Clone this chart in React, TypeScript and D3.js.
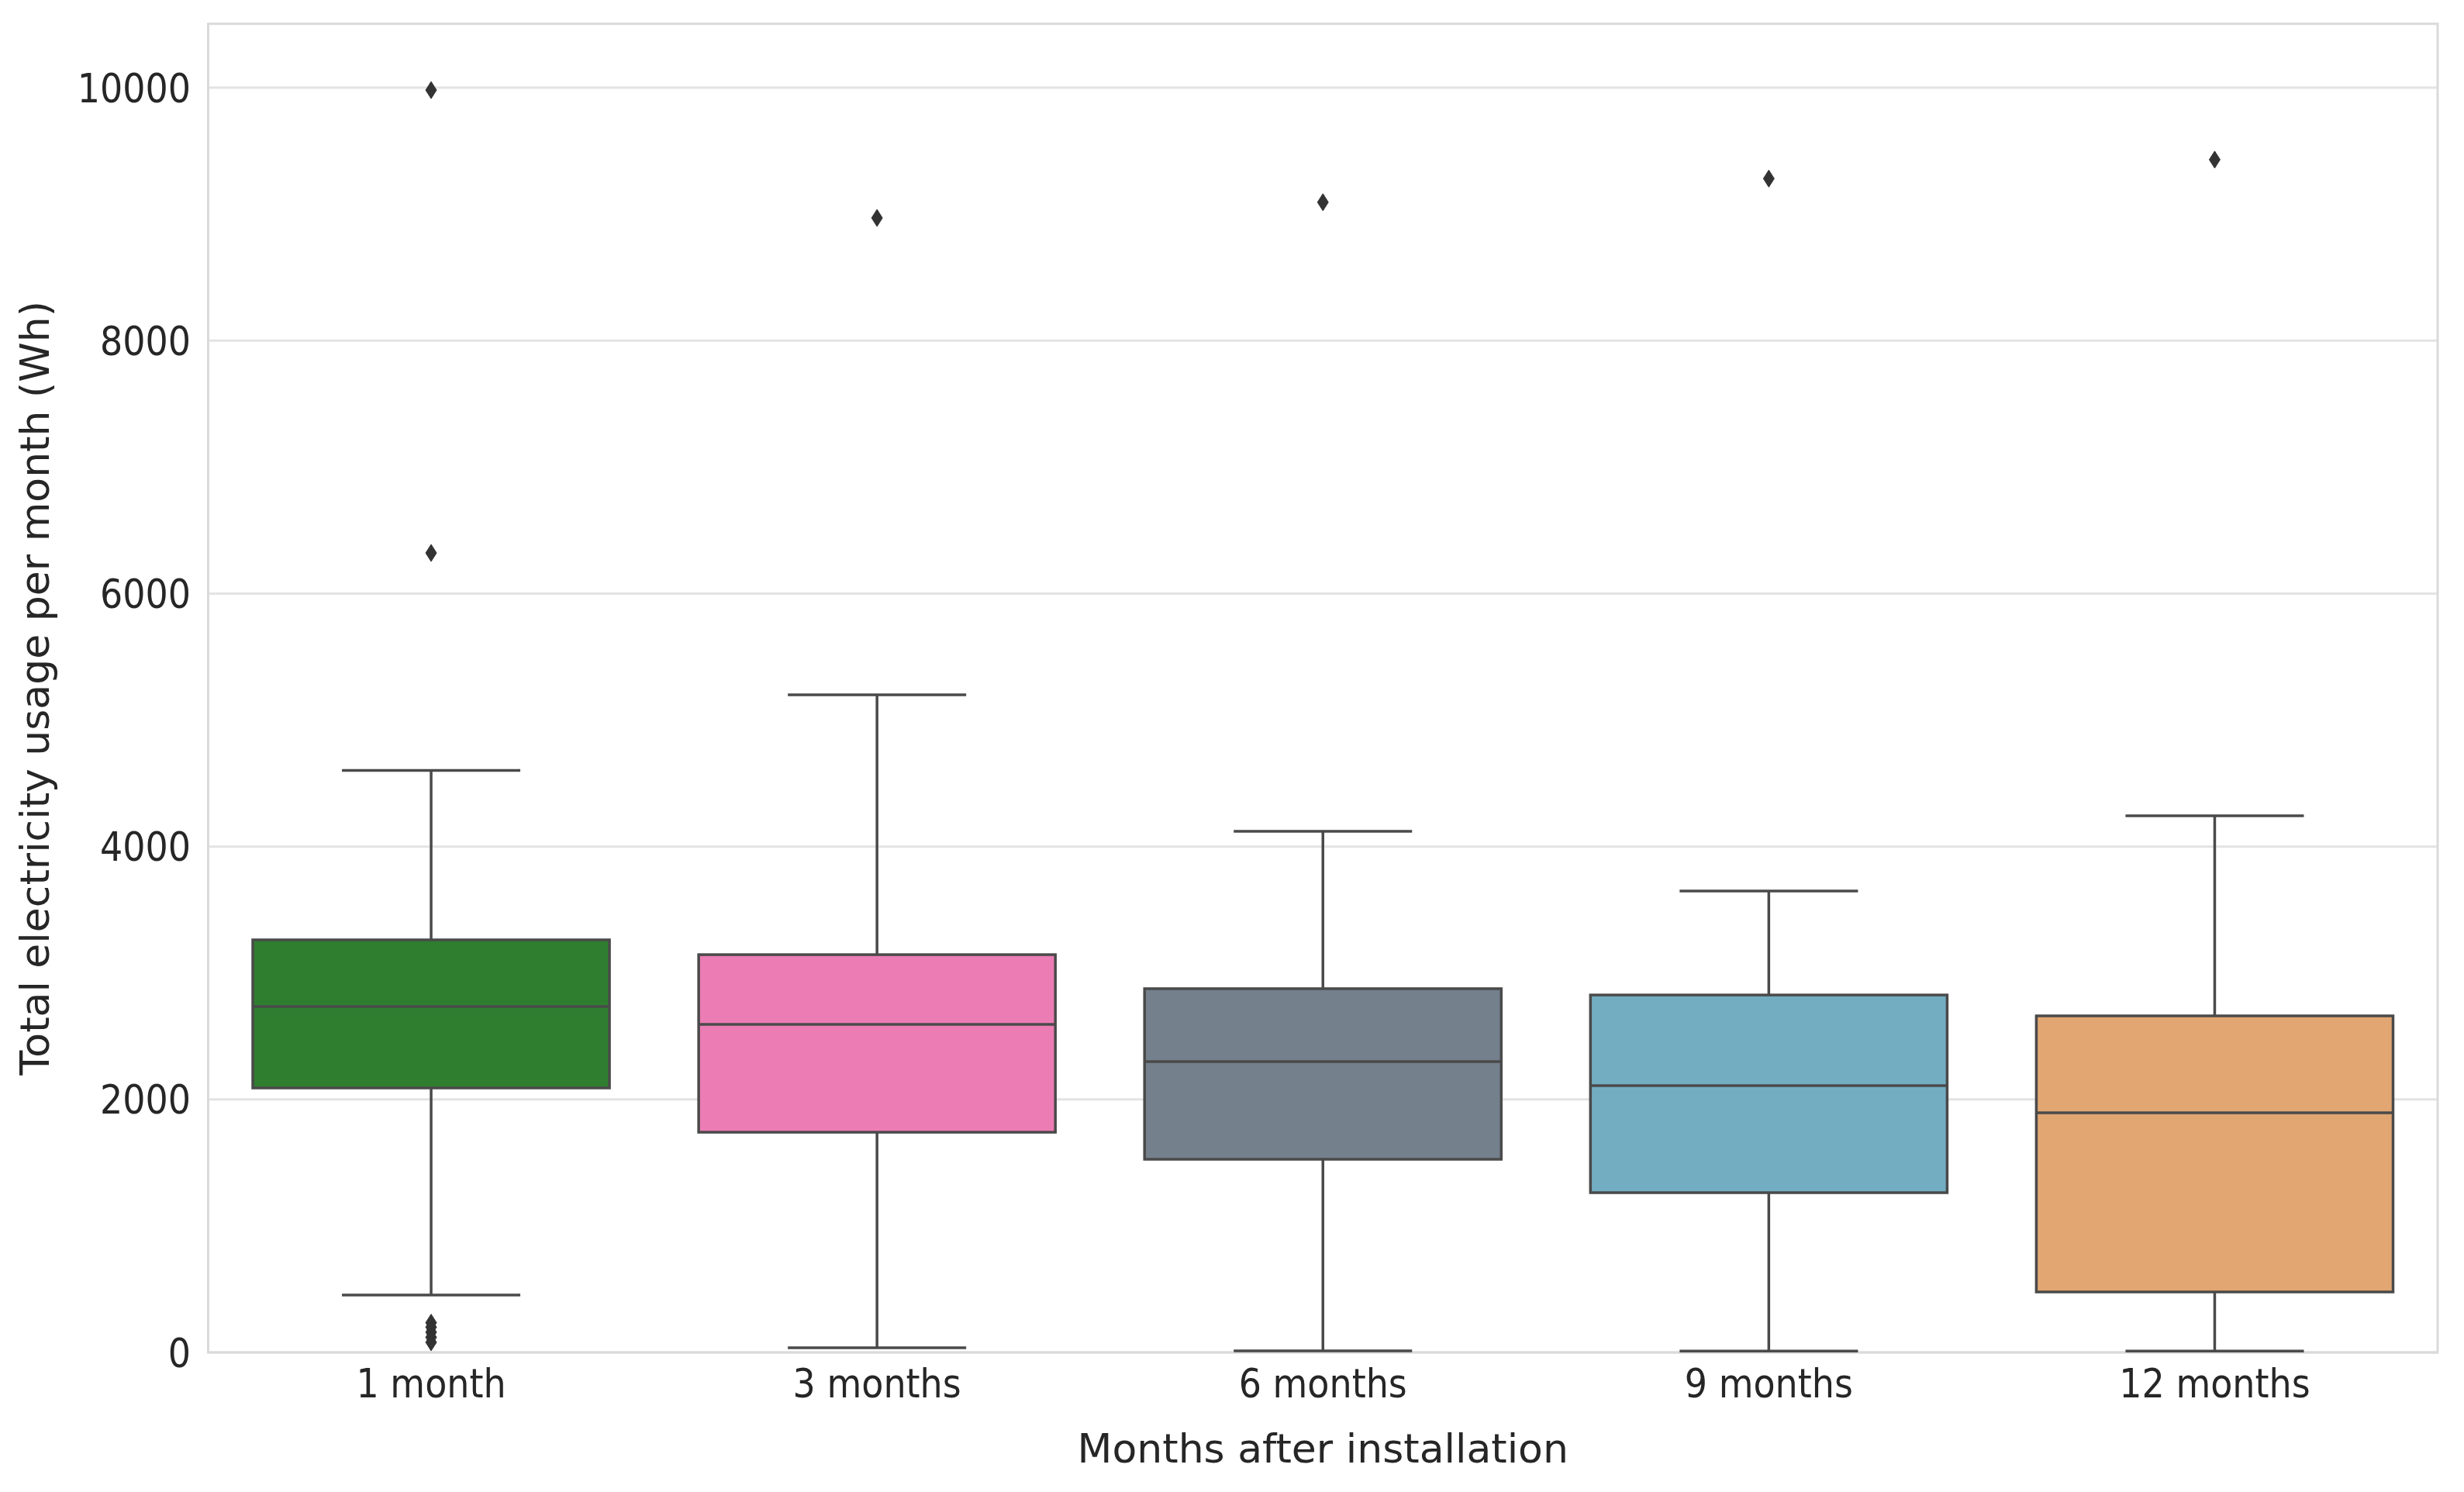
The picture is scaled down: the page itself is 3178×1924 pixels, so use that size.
import React from "react";
import * as d3 from "d3";

const categories = ["1 month", "3 months", "6 months", "9 months", "12 months"];
const whiskerLow = [454, 37, 12, 10, 10];
const q1 = [2091, 1741, 1527, 1263, 478];
const median = [2734, 2594, 2299, 2109, 1895];
const q3 = [3262, 3145, 2876, 2826, 2661];
const whiskerHigh = [4602, 5199, 4120, 3648, 4243];
const outliers = [
  [9981, 6321, 235, 200, 160, 120, 80],
  [8970],
  [9094],
  [9281],
  [9431],
];
const colors = ["#2f7e30", "#ec7cb4", "#74808c", "#73adc1", "#e2a672"];
const yTicks = [0, 2000, 4000, 6000, 8000, 10000];

const W = 3178;
const H = 1924;
const left = 268.5;
const right = 3144;
const top = 30.7;
const bottom = 1744;

export default function App() {
  const x = d3.scaleBand<string>().domain(categories).range([left, right]).paddingInner(0).paddingOuter(0);
  const y = d3.scaleLinear().domain([0, 10505]).range([bottom, top]);
  const bw = x.bandwidth();
  const boxW = bw * 0.8;
  const capW = boxW * 0.5;
  const lineColor = "#4a4a4a";
  const font = "'DejaVu Sans', sans-serif";
  const textColor = "#262626";
  const diamond = (cx: number, cy: number) => {
    const hh = 11, hw = 7;
    return `M${cx},${cy - hh}L${cx + hw},${cy}L${cx},${cy + hh}L${cx - hw},${cy}Z`;
  };
  return (
    <svg width={W} height={H} style={{ position: "absolute", left: 0, top: 0, background: "#fff" }} fontFamily={font}>
      <rect x={0} y={0} width={W} height={H} fill="#fff" />
      {yTicks.map((t) => (
        <line key={"g" + t} x1={left} x2={right} y1={y(t)} y2={y(t)} stroke="#e3e3e3" strokeWidth={3} />
      ))}
      <rect x={left} y={top} width={right - left} height={bottom - top} fill="none" stroke="#dadada" strokeWidth={3} />
      {categories.map((c, i) => {
        const cx = (x(c) as number) + bw / 2;
        return (
          <g key={c}>
            <line x1={cx} x2={cx} y1={y(q3[i])} y2={y(whiskerHigh[i])} stroke={lineColor} strokeWidth={3.5} />
            <line x1={cx} x2={cx} y1={y(q1[i])} y2={y(whiskerLow[i])} stroke={lineColor} strokeWidth={3.5} />
            <line x1={cx - capW / 2} x2={cx + capW / 2} y1={y(whiskerHigh[i])} y2={y(whiskerHigh[i])} stroke={lineColor} strokeWidth={3.5} />
            <line x1={cx - capW / 2} x2={cx + capW / 2} y1={y(whiskerLow[i])} y2={y(whiskerLow[i])} stroke={lineColor} strokeWidth={3.5} />
            <rect x={cx - boxW / 2} y={y(q3[i])} width={boxW} height={y(q1[i]) - y(q3[i])} fill={colors[i]} stroke={lineColor} strokeWidth={3.5} />
            <line x1={cx - boxW / 2} x2={cx + boxW / 2} y1={y(median[i])} y2={y(median[i])} stroke={lineColor} strokeWidth={3.5} />
            {outliers[i].map((v, j) => (
              <path key={j} d={diamond(cx, y(v))} fill="#333" stroke="#333" strokeWidth={1} />
            ))}
            <text
              transform={`translate(${cx},${1802}) scale(1,1.13)`}
              textAnchor="middle"
              fontSize={46}
              fill={textColor}
            >
              {c}
            </text>
          </g>
        );
      })}
      {yTicks.map((t) => (
        <text
          key={"t" + t}
          transform={`translate(${246},${y(t) + 18.5}) scale(1,1.13)`}
          textAnchor="end"
          fontSize={46}
          fill={textColor}
        >
          {t}
        </text>
      ))}
      <text x={(left + right) / 2} y={1886} textAnchor="middle" fontSize={52} fill={textColor}>
        Months after installation
      </text>
      <text
        transform={`translate(${63},${(top + bottom) / 2}) rotate(-90)`}
        textAnchor="middle"
        fontSize={52}
        fill={textColor}
      >
        Total electricity usage per month (Wh)
      </text>
    </svg>
  );
}
